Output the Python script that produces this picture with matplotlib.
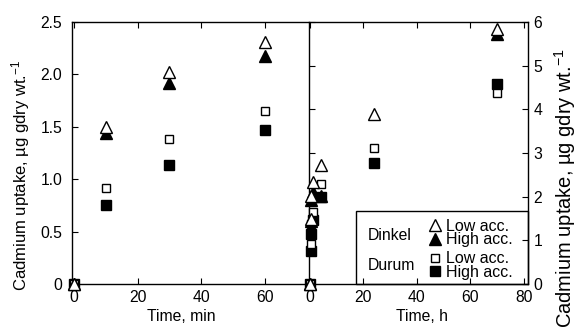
import numpy as np
import matplotlib
matplotlib.use("Agg")
import matplotlib.pyplot as plt
from matplotlib.lines import Line2D
from matplotlib.patches import Rectangle

plt.rcParams["font.family"] = ["Liberation Sans", "DejaVu Sans"]
plt.rcParams["font.size"] = 11.3
plt.rcParams["mathtext.fontset"] = "custom"
plt.rcParams["mathtext.rm"] = "Liberation Sans"
plt.rcParams["mathtext.default"] = "regular"

# Short-term uptake (minutes)
t_min = [0, 10, 30, 60]
dinkel_low_min = [0, 1.50, 2.02, 2.31]
dinkel_high_min = [0, 1.44, 1.92, 2.18]
durum_low_min = [0, 0.92, 1.38, 1.65]
durum_high_min = [0, 0.75, 1.14, 1.47]

# Long-term uptake (hours)
t_h = [0, 0.17, 0.5, 1, 4, 24, 70]
dinkel_low_h = [0, 1.50, 2.02, 2.34, 2.73, 3.90, 5.85]
dinkel_high_h = [0, 1.44, 1.92, 2.11, 2.02, np.nan, 5.73]
durum_low_h = [0, 0.92, 1.38, 1.65, 2.30, 3.11, 4.37]
durum_high_h = [0, 0.75, 1.14, 1.47, 1.99, 2.76, 4.59]

ylab = r"Cadmium uptake, µg gdry wt.$^{-1}$"

fig = plt.figure(figsize=(5.74, 3.27), dpi=100)
ax1 = fig.add_axes([0.1254, 0.1315, 0.4111, 0.8012])
ax2 = fig.add_axes([0.5383, 0.1315, 0.3815, 0.8012])

styles = [
    dict(marker="^", mfc="white", mec="black", ms=9),
    dict(marker="^", mfc="black", mec="black", ms=9),
    dict(marker="s", mfc="white", mec="black", ms=6),
    dict(marker="s", mfc="black", mec="black", ms=6.5),
]

# durum first so the triangles sit on top
for ys, st in zip([durum_high_min, durum_low_min, dinkel_high_min, dinkel_low_min],
                  [styles[3], styles[2], styles[1], styles[0]]):
    ax1.plot(t_min, ys, ls="none", mew=1, clip_on=False, zorder=3, **st)
for ys, st in zip([durum_high_h, durum_low_h, dinkel_high_h, dinkel_low_h],
                  [styles[3], styles[2], styles[1], styles[0]]):
    ax2.plot(t_h, ys, ls="none", mew=1, clip_on=False, zorder=3, **st)

ax1.set_xlim(-0.63, 73.5)
ax1.set_ylim(0, 2.5)
ax1.set_xticks([0, 20, 40, 60])
ax1.set_yticks([0, 0.5, 1.0, 1.5, 2.0, 2.5])
ax1.set_yticklabels(["0", "0.5", "1.0", "1.5", "2.0", "2.5"])
ax1.tick_params(direction="in", length=4, top=True, right=False, pad=4)
ax1.tick_params(axis="y", pad=7)
ax1.set_xlabel("Time, min")
ax1.xaxis.set_label_coords(0.462, -0.097)
ax1.set_ylabel(ylab, fontsize=12)
ax1.yaxis.set_label_coords(-0.170, 0.416)
ax1.spines["right"].set_visible(False)

ax2.set_xlim(-0.4, 81.6)
ax2.set_ylim(0, 6)
ax2.set_xticks([0, 20, 40, 60, 80])
ax2.set_yticks(range(7))
ax2.tick_params(direction="in", length=4, top=True, left=True, right=True,
                labelleft=False, labelright=True, pad=4)
ax2.set_xlabel("Time, h")
ax2.xaxis.set_label_coords(0.516, -0.097)

fig.text(0.985, 0.853, ylab, rotation=90, ha="center", va="top", fontsize=14.5)

for ax in (ax1, ax2):
    for sp in ax.spines.values():
        sp.set_linewidth(1)

# legend box
ax2.add_patch(Rectangle((0.215, 0), 0.785, 0.278, transform=ax2.transAxes,
                        fill=False, lw=1, ec="black", clip_on=False, zorder=4))
handles = [Line2D([], [], ls="none", mew=1, **st) for st in styles]
labels = ["Low acc.", "High acc.", "Low acc.", "High acc."]
leg_kw = dict(frameon=False, labelspacing=-0.1, handletextpad=0.3,
              handlelength=0.8, borderpad=0.0, borderaxespad=0.0,
              fontsize=11.5, loc="upper left")
leg1 = ax2.legend(handles[:2], labels[:2], bbox_to_anchor=(0.545, 0.248), **leg_kw)
ax2.add_artist(leg1)
ax2.legend(handles[2:], labels[2:], bbox_to_anchor=(0.545, 0.125), **leg_kw)
ax2.text(0.270, 0.184, "Dinkel", transform=ax2.transAxes, va="center")
ax2.text(0.270, 0.072, "Durum", transform=ax2.transAxes, va="center")

fig.savefig("out.png", dpi=100)
